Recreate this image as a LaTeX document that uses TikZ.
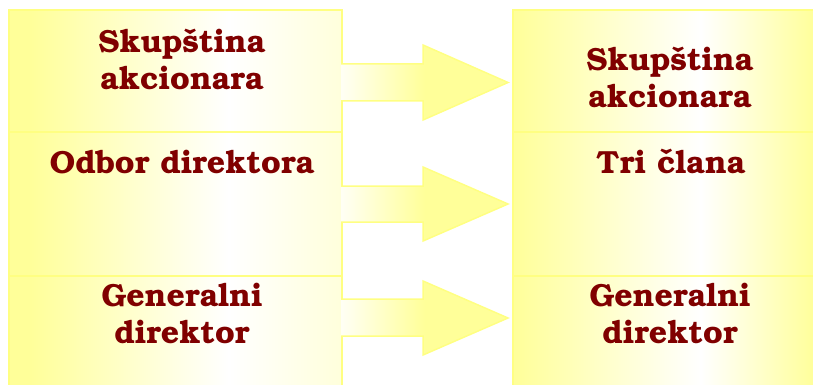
\documentclass[tikz,border=0pt]{standalone}
\usepackage[T1]{fontenc}
\usepackage{bookman}
\definecolor{pyel}{RGB}{255,255,153}
\definecolor{pline}{RGB}{255,255,130}
\definecolor{txtred}{RGB}{128,0,0}
\pgfdeclarehorizontalshading{leftpanel}{100bp}{color(0bp)=(pyel); color(28bp)=(pyel); color(58bp)=(white); color(75bp)=(pyel!35); color(100bp)=(pyel!35)}
\pgfdeclarehorizontalshading{rightpanel}{100bp}{color(0bp)=(pyel); color(25bp)=(pyel); color(56bp)=(white); color(75bp)=(pyel); color(100bp)=(pyel)}
\pgfdeclarehorizontalshading{arrowpanel}{100bp}{color(0bp)=(pyel!10); color(25bp)=(pyel!10); color(50bp)=(pyel); color(100bp)=(pyel)}
\tikzset{
  lbox/.style={rectangle, draw=pline, line width=1.5pt, shading=leftpanel, minimum width=333pt, inner sep=0pt},
  rbox/.style={rectangle, draw=pline, line width=1.5pt, shading=rightpanel, minimum width=303pt, inner sep=0pt},
  blockarrow/.style={shading=arrowpanel},
  blockedge/.style={draw=pline, line width=1.5pt},
  lbl/.style={text=txtred, font=\fontsize{32}{37}\selectfont\bfseries, align=center, anchor=base, inner sep=0pt}
}
\begin{document}
\begin{tikzpicture}[x=1pt,y=-1pt]
\useasboundingbox (0,0) rectangle (813,385);
% left panel
\node[lbox, minimum height=122pt] (lbox1) at (175.5,71) {};
\node[lbox, minimum height=144pt] (lbox2) at (175.5,204) {};
\node[lbox, minimum height=112pt] (lbox3) at (175.5,332) {};
% right panel
\node[rbox, minimum height=122pt] (rbox1) at (664.5,71) {};
\node[rbox, minimum height=144pt] (rbox2) at (664.5,204) {};
\node[rbox, minimum height=112pt] (rbox3) at (664.5,332) {};
% arrows
\path[blockarrow] (341,64) -- (423,64) -- (423,45) -- (508,82.5) -- (423,120) -- (423,101) -- (341,101) -- cycle;
\draw[blockedge] (341,64) -- (423,64) -- (423,45) -- (508,82.5) -- (423,120) -- (423,101) -- (341,101);
\path[blockarrow] (341,186) -- (423,186) -- (423,167) -- (508,204) -- (423,241) -- (423,222) -- (341,222) -- cycle;
\draw[blockedge] (341,186) -- (423,186) -- (423,167) -- (508,204) -- (423,241) -- (423,222) -- (341,222);
\path[blockarrow] (341,299) -- (423,299) -- (423,281) -- (508,318) -- (423,355) -- (423,336) -- (341,336) -- cycle;
\draw[blockedge] (341,299) -- (423,299) -- (423,281) -- (508,318) -- (423,355) -- (423,336) -- (341,336);
% labels (base = last line)
\node[lbl] (ltxt1) at (182,90) {Skup\v{s}tina\\akcionara};
\node[lbl] (ltxt2) at (182,173) {Odbor direktora};
\node[lbl] (ltxt3) at (182,343) {Generalni\\direktor};
\node[lbl] (rtxt1) at (670,108) {Skup\v{s}tina\\akcionara};
\node[lbl] (rtxt2) at (671,173) {Tri \v{c}lana};
\node[lbl] (rtxt3) at (670,343) {Generalni\\direktor};
\end{tikzpicture}
\end{document}
